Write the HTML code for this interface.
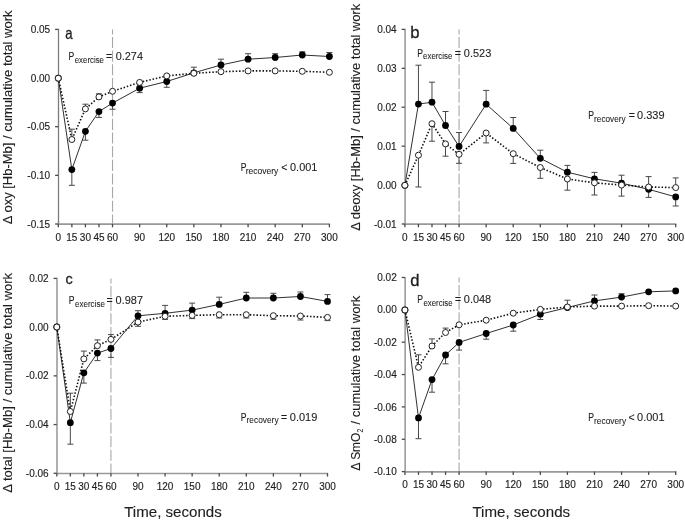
<!DOCTYPE html>
<html><head><meta charset="utf-8"><style>
html,body{margin:0;padding:0;background:#fff;}
body{width:685px;height:521px;overflow:hidden;}
svg{display:block;will-change:transform;filter:blur(0.4px);}
text{font-family:"Liberation Sans",sans-serif;fill:#1e1e1e;}
.tk{font-size:10px;stroke:#1e1e1e;stroke-width:0.15px;}
.let{font-size:16.5px;stroke:#1e1e1e;stroke-width:0.3px;}
.pv{font-size:10.5px;stroke:#1e1e1e;stroke-width:0.1px;}
.sub{font-size:9.6px;stroke:#1e1e1e;stroke-width:0.08px;}
.yl{font-size:13px;stroke:#1e1e1e;stroke-width:0.12px;}
.sub2{font-size:8.5px;}
.tm{font-size:14.5px;stroke:#1e1e1e;stroke-width:0.12px;}
</style></head><body>
<svg width="685" height="521" viewBox="0 0 685 521">
<rect width="685" height="521" fill="#fff"/>
<line x1="112.52" y1="29.4" x2="112.52" y2="224" stroke="#a8a8a8" stroke-width="1.1" stroke-dasharray="11.1 2.55" stroke-dashoffset="6.1"/>
<line x1="58.5" y1="28.8" x2="58.5" y2="224" stroke="#7c7c7c" stroke-width="1.3"/>
<line x1="58.3" y1="224.2" x2="330" y2="224.2" stroke="#999" stroke-width="1.7"/>
<line x1="55.1" y1="29.4" x2="58.3" y2="29.4" stroke="#4a4a4a" stroke-width="1.3"/>
<text x="50.1" y="33" class="tk" text-anchor="end">0.05</text>
<line x1="55.1" y1="78.05" x2="58.3" y2="78.05" stroke="#4a4a4a" stroke-width="1.3"/>
<text x="50.1" y="81.65" class="tk" text-anchor="end">0.00</text>
<line x1="55.1" y1="126.7" x2="58.3" y2="126.7" stroke="#4a4a4a" stroke-width="1.3"/>
<text x="50.1" y="130.3" class="tk" text-anchor="end">-0.05</text>
<line x1="55.1" y1="175.35" x2="58.3" y2="175.35" stroke="#4a4a4a" stroke-width="1.3"/>
<text x="50.1" y="178.95" class="tk" text-anchor="end">-0.10</text>
<line x1="55.1" y1="224" x2="58.3" y2="224" stroke="#4a4a4a" stroke-width="1.3"/>
<text x="50.1" y="227.6" class="tk" text-anchor="end">-0.15</text>
<line x1="58.3" y1="224" x2="58.3" y2="227.3" stroke="#4a4a4a" stroke-width="1.3"/>
<text x="58.3" y="240.8" class="tk" text-anchor="middle">0</text>
<line x1="71.85" y1="224" x2="71.85" y2="227.3" stroke="#4a4a4a" stroke-width="1.3"/>
<text x="71.85" y="240.8" class="tk" text-anchor="middle">15</text>
<line x1="85.41" y1="224" x2="85.41" y2="227.3" stroke="#4a4a4a" stroke-width="1.3"/>
<text x="85.41" y="240.8" class="tk" text-anchor="middle">30</text>
<line x1="98.96" y1="224" x2="98.96" y2="227.3" stroke="#4a4a4a" stroke-width="1.3"/>
<text x="98.96" y="240.8" class="tk" text-anchor="middle">45</text>
<line x1="112.52" y1="224" x2="112.52" y2="227.3" stroke="#4a4a4a" stroke-width="1.3"/>
<text x="112.52" y="240.8" class="tk" text-anchor="middle">60</text>
<line x1="139.63" y1="224" x2="139.63" y2="227.3" stroke="#4a4a4a" stroke-width="1.3"/>
<text x="139.63" y="240.8" class="tk" text-anchor="middle">90</text>
<line x1="166.74" y1="224" x2="166.74" y2="227.3" stroke="#4a4a4a" stroke-width="1.3"/>
<text x="166.74" y="240.8" class="tk" text-anchor="middle">120</text>
<line x1="193.85" y1="224" x2="193.85" y2="227.3" stroke="#4a4a4a" stroke-width="1.3"/>
<text x="193.85" y="240.8" class="tk" text-anchor="middle">150</text>
<line x1="220.96" y1="224" x2="220.96" y2="227.3" stroke="#4a4a4a" stroke-width="1.3"/>
<text x="220.96" y="240.8" class="tk" text-anchor="middle">180</text>
<line x1="248.07" y1="224" x2="248.07" y2="227.3" stroke="#4a4a4a" stroke-width="1.3"/>
<text x="248.07" y="240.8" class="tk" text-anchor="middle">210</text>
<line x1="275.18" y1="224" x2="275.18" y2="227.3" stroke="#4a4a4a" stroke-width="1.3"/>
<text x="275.18" y="240.8" class="tk" text-anchor="middle">240</text>
<line x1="302.29" y1="224" x2="302.29" y2="227.3" stroke="#4a4a4a" stroke-width="1.3"/>
<text x="302.29" y="240.8" class="tk" text-anchor="middle">270</text>
<line x1="329.4" y1="224" x2="329.4" y2="227.3" stroke="#4a4a4a" stroke-width="1.3"/>
<text x="329.4" y="240.8" class="tk" text-anchor="middle">300</text>
<path d="M71.85 169.6V185.3M68.85 185.3H74.85" stroke="#484848" stroke-width="1" fill="none"/>
<path d="M85.41 131.3V140.2M82.41 140.2H88.41" stroke="#484848" stroke-width="1" fill="none"/>
<path d="M98.96 111.6V117.4M95.96 117.4H101.96" stroke="#484848" stroke-width="1" fill="none"/>
<path d="M112.52 103.1V109.2M109.52 109.2H115.52" stroke="#484848" stroke-width="1" fill="none"/>
<path d="M139.63 88.2V92.6M136.63 92.6H142.63" stroke="#484848" stroke-width="1" fill="none"/>
<path d="M166.74 81.5V87.3M163.74 87.3H169.74" stroke="#484848" stroke-width="1" fill="none"/>
<path d="M193.85 72.8V67.2M190.85 67.2H196.85" stroke="#484848" stroke-width="1" fill="none"/>
<path d="M220.96 65V59.2M217.96 59.2H223.96" stroke="#484848" stroke-width="1" fill="none"/>
<path d="M248.07 59.2V53.7M245.07 53.7H251.07" stroke="#484848" stroke-width="1" fill="none"/>
<path d="M275.18 57.5V53.7M272.18 53.7H278.18" stroke="#484848" stroke-width="1" fill="none"/>
<path d="M302.29 55V51.8M299.29 51.8H305.29" stroke="#484848" stroke-width="1" fill="none"/>
<path d="M329.4 56.5V52.5M326.4 52.5H332.4" stroke="#484848" stroke-width="1" fill="none"/>
<path d="M71.85 139.5V129.2M68.85 129.2H74.85" stroke="#484848" stroke-width="1" fill="none"/>
<path d="M85.41 108.9V104.2M82.41 104.2H88.41" stroke="#484848" stroke-width="1" fill="none"/>
<path d="M98.96 96.9V93.8M95.96 93.8H101.96" stroke="#484848" stroke-width="1" fill="none"/>
<polyline points="58.3,78.2 71.85,169.6 85.41,131.3 98.96,111.6 112.52,103.1 139.63,88.2 166.74,81.5 193.85,72.8 220.96,65 248.07,59.2 275.18,57.5 302.29,55 329.4,56.5" fill="none" stroke="#303030" stroke-width="1"/>
<polyline points="58.3,78.2 71.85,139.5 85.41,108.9 98.96,96.9 112.52,91.3 139.63,82.4 166.74,75.9 193.85,73.3 220.96,71.7 248.07,70.9 275.18,70.9 302.29,71.3 329.4,72.3" fill="none" stroke="#111" stroke-width="1.6" stroke-dasharray="1.5 1.85"/>
<circle cx="58.3" cy="78.2" r="3.4" fill="#000"/>
<circle cx="71.85" cy="169.6" r="3.4" fill="#000"/>
<circle cx="85.41" cy="131.3" r="3.4" fill="#000"/>
<circle cx="98.96" cy="111.6" r="3.4" fill="#000"/>
<circle cx="112.52" cy="103.1" r="3.4" fill="#000"/>
<circle cx="139.63" cy="88.2" r="3.4" fill="#000"/>
<circle cx="166.74" cy="81.5" r="3.4" fill="#000"/>
<circle cx="193.85" cy="72.8" r="3.4" fill="#000"/>
<circle cx="220.96" cy="65" r="3.4" fill="#000"/>
<circle cx="248.07" cy="59.2" r="3.4" fill="#000"/>
<circle cx="275.18" cy="57.5" r="3.4" fill="#000"/>
<circle cx="302.29" cy="55" r="3.4" fill="#000"/>
<circle cx="329.4" cy="56.5" r="3.4" fill="#000"/>
<circle cx="58.3" cy="78.2" r="3" fill="#fff" stroke="#222" stroke-width="1"/>
<circle cx="71.85" cy="139.5" r="3" fill="#fff" stroke="#222" stroke-width="1"/>
<circle cx="85.41" cy="108.9" r="3" fill="#fff" stroke="#222" stroke-width="1"/>
<circle cx="98.96" cy="96.9" r="3" fill="#fff" stroke="#222" stroke-width="1"/>
<circle cx="112.52" cy="91.3" r="3" fill="#fff" stroke="#222" stroke-width="1"/>
<circle cx="139.63" cy="82.4" r="3" fill="#fff" stroke="#222" stroke-width="1"/>
<circle cx="166.74" cy="75.9" r="3" fill="#fff" stroke="#222" stroke-width="1"/>
<circle cx="193.85" cy="73.3" r="3" fill="#fff" stroke="#222" stroke-width="1"/>
<circle cx="220.96" cy="71.7" r="3" fill="#fff" stroke="#222" stroke-width="1"/>
<circle cx="248.07" cy="70.9" r="3" fill="#fff" stroke="#222" stroke-width="1"/>
<circle cx="275.18" cy="70.9" r="3" fill="#fff" stroke="#222" stroke-width="1"/>
<circle cx="302.29" cy="71.3" r="3" fill="#fff" stroke="#222" stroke-width="1"/>
<circle cx="329.4" cy="72.3" r="3" fill="#fff" stroke="#222" stroke-width="1"/>
<text x="65.29" y="39.00" class="let" textLength="7.36" lengthAdjust="spacingAndGlyphs" style="font-size:16.5px">a</text>
<text x="68.54" y="60.00" class="pv" textLength="5.76" lengthAdjust="spacingAndGlyphs">P</text>
<text x="74.72" y="62.60" class="sub" textLength="29.28" lengthAdjust="spacingAndGlyphs">exercise</text>
<text x="105.99" y="60.00" class="pv">=</text>
<text x="115.72" y="60.00" class="pv" textLength="27.24" lengthAdjust="spacingAndGlyphs">0.274</text>
<text x="240.64" y="170.90" class="pv" textLength="5.76" lengthAdjust="spacingAndGlyphs">P</text>
<text x="245.79" y="173.50" class="sub" textLength="32.48" lengthAdjust="spacingAndGlyphs">recovery</text>
<text x="281.33" y="170.90" class="pv">&lt;</text>
<text x="290.02" y="170.90" class="pv" textLength="27.36" lengthAdjust="spacingAndGlyphs">0.001</text>
<text transform="translate(11.90,224.14) rotate(-90)" class="yl" textLength="213.67" lengthAdjust="spacingAndGlyphs">Δ oxy [Hb-Mb] / cumulative total work</text>
<line x1="459.06" y1="29.4" x2="459.06" y2="224" stroke="#a8a8a8" stroke-width="1.1" stroke-dasharray="11.1 2.55" stroke-dashoffset="6.1"/>
<line x1="405.1" y1="28.8" x2="405.1" y2="224" stroke="#a2a2a2" stroke-width="1.7"/>
<line x1="404.9" y1="224.2" x2="676.3" y2="224.2" stroke="#999" stroke-width="1.7"/>
<line x1="401.7" y1="29.4" x2="404.9" y2="29.4" stroke="#4a4a4a" stroke-width="1.3"/>
<text x="396.7" y="33" class="tk" text-anchor="end">0.04</text>
<line x1="401.7" y1="68.32" x2="404.9" y2="68.32" stroke="#4a4a4a" stroke-width="1.3"/>
<text x="396.7" y="71.92" class="tk" text-anchor="end">0.03</text>
<line x1="401.7" y1="107.24" x2="404.9" y2="107.24" stroke="#4a4a4a" stroke-width="1.3"/>
<text x="396.7" y="110.84" class="tk" text-anchor="end">0.02</text>
<line x1="401.7" y1="146.16" x2="404.9" y2="146.16" stroke="#4a4a4a" stroke-width="1.3"/>
<text x="396.7" y="149.76" class="tk" text-anchor="end">0.01</text>
<line x1="401.7" y1="185.08" x2="404.9" y2="185.08" stroke="#4a4a4a" stroke-width="1.3"/>
<text x="396.7" y="188.68" class="tk" text-anchor="end">0.00</text>
<line x1="401.7" y1="224" x2="404.9" y2="224" stroke="#4a4a4a" stroke-width="1.3"/>
<text x="396.7" y="227.6" class="tk" text-anchor="end">-0.01</text>
<line x1="404.9" y1="224" x2="404.9" y2="227.3" stroke="#4a4a4a" stroke-width="1.3"/>
<text x="404.9" y="240.8" class="tk" text-anchor="middle">0</text>
<line x1="418.44" y1="224" x2="418.44" y2="227.3" stroke="#4a4a4a" stroke-width="1.3"/>
<text x="418.44" y="240.8" class="tk" text-anchor="middle">15</text>
<line x1="431.98" y1="224" x2="431.98" y2="227.3" stroke="#4a4a4a" stroke-width="1.3"/>
<text x="431.98" y="240.8" class="tk" text-anchor="middle">30</text>
<line x1="445.52" y1="224" x2="445.52" y2="227.3" stroke="#4a4a4a" stroke-width="1.3"/>
<text x="445.52" y="240.8" class="tk" text-anchor="middle">45</text>
<line x1="459.06" y1="224" x2="459.06" y2="227.3" stroke="#4a4a4a" stroke-width="1.3"/>
<text x="459.06" y="240.8" class="tk" text-anchor="middle">60</text>
<line x1="486.14" y1="224" x2="486.14" y2="227.3" stroke="#4a4a4a" stroke-width="1.3"/>
<text x="486.14" y="240.8" class="tk" text-anchor="middle">90</text>
<line x1="513.22" y1="224" x2="513.22" y2="227.3" stroke="#4a4a4a" stroke-width="1.3"/>
<text x="513.22" y="240.8" class="tk" text-anchor="middle">120</text>
<line x1="540.3" y1="224" x2="540.3" y2="227.3" stroke="#4a4a4a" stroke-width="1.3"/>
<text x="540.3" y="240.8" class="tk" text-anchor="middle">150</text>
<line x1="567.38" y1="224" x2="567.38" y2="227.3" stroke="#4a4a4a" stroke-width="1.3"/>
<text x="567.38" y="240.8" class="tk" text-anchor="middle">180</text>
<line x1="594.46" y1="224" x2="594.46" y2="227.3" stroke="#4a4a4a" stroke-width="1.3"/>
<text x="594.46" y="240.8" class="tk" text-anchor="middle">210</text>
<line x1="621.54" y1="224" x2="621.54" y2="227.3" stroke="#4a4a4a" stroke-width="1.3"/>
<text x="621.54" y="240.8" class="tk" text-anchor="middle">240</text>
<line x1="648.62" y1="224" x2="648.62" y2="227.3" stroke="#4a4a4a" stroke-width="1.3"/>
<text x="648.62" y="240.8" class="tk" text-anchor="middle">270</text>
<line x1="675.7" y1="224" x2="675.7" y2="227.3" stroke="#4a4a4a" stroke-width="1.3"/>
<text x="675.7" y="240.8" class="tk" text-anchor="middle">300</text>
<path d="M418.44 104.1V65.2M415.44 65.2H421.44" stroke="#484848" stroke-width="1" fill="none"/>
<path d="M431.98 102.2V82.2M428.98 82.2H434.98" stroke="#484848" stroke-width="1" fill="none"/>
<path d="M445.52 125.5V111.5M442.52 111.5H448.52" stroke="#484848" stroke-width="1" fill="none"/>
<path d="M459.06 146.4V132.5M456.06 132.5H462.06" stroke="#484848" stroke-width="1" fill="none"/>
<path d="M486.14 104.2V90.4M483.14 90.4H489.14" stroke="#484848" stroke-width="1" fill="none"/>
<path d="M513.22 128.4V117.5M510.22 117.5H516.22" stroke="#484848" stroke-width="1" fill="none"/>
<path d="M540.3 158.3V150.2M537.3 150.2H543.3" stroke="#484848" stroke-width="1" fill="none"/>
<path d="M567.38 172.2V165.4M564.38 165.4H570.38" stroke="#484848" stroke-width="1" fill="none"/>
<path d="M594.46 178.8V172.4M591.46 172.4H597.46" stroke="#484848" stroke-width="1" fill="none"/>
<path d="M621.54 183.2V175.2M618.54 175.2H624.54" stroke="#484848" stroke-width="1" fill="none"/>
<path d="M648.62 189.3V197.4M645.62 197.4H651.62" stroke="#484848" stroke-width="1" fill="none"/>
<path d="M675.7 196.9V206M672.7 206H678.7" stroke="#484848" stroke-width="1" fill="none"/>
<path d="M418.44 155.2V187M415.44 187H421.44" stroke="#484848" stroke-width="1" fill="none"/>
<path d="M431.98 123.7V141.2M428.98 141.2H434.98" stroke="#484848" stroke-width="1" fill="none"/>
<path d="M445.52 143.9V156.2M442.52 156.2H448.52" stroke="#484848" stroke-width="1" fill="none"/>
<path d="M459.06 154.3V163.3M456.06 163.3H462.06" stroke="#484848" stroke-width="1" fill="none"/>
<path d="M486.14 133V142.9M483.14 142.9H489.14" stroke="#484848" stroke-width="1" fill="none"/>
<path d="M513.22 153.7V163.4M510.22 163.4H516.22" stroke="#484848" stroke-width="1" fill="none"/>
<path d="M540.3 167.5V178.3M537.3 178.3H543.3" stroke="#484848" stroke-width="1" fill="none"/>
<path d="M567.38 179V190.2M564.38 190.2H570.38" stroke="#484848" stroke-width="1" fill="none"/>
<path d="M594.46 182.8V195M591.46 195H597.46" stroke="#484848" stroke-width="1" fill="none"/>
<path d="M621.54 185.1V196.1M618.54 196.1H624.54" stroke="#484848" stroke-width="1" fill="none"/>
<path d="M648.62 187V176.6M645.62 176.6H651.62" stroke="#484848" stroke-width="1" fill="none"/>
<path d="M675.7 187.6V177.9M672.7 177.9H678.7" stroke="#484848" stroke-width="1" fill="none"/>
<polyline points="404.9,185.3 418.44,104.1 431.98,102.2 445.52,125.5 459.06,146.4 486.14,104.2 513.22,128.4 540.3,158.3 567.38,172.2 594.46,178.8 621.54,183.2 648.62,189.3 675.7,196.9" fill="none" stroke="#303030" stroke-width="1"/>
<polyline points="404.9,185.3 418.44,155.2 431.98,123.7 445.52,143.9 459.06,154.3 486.14,133 513.22,153.7 540.3,167.5 567.38,179 594.46,182.8 621.54,185.1 648.62,187 675.7,187.6" fill="none" stroke="#111" stroke-width="1.6" stroke-dasharray="1.5 1.85"/>
<circle cx="404.9" cy="185.3" r="3.4" fill="#000"/>
<circle cx="418.44" cy="104.1" r="3.4" fill="#000"/>
<circle cx="431.98" cy="102.2" r="3.4" fill="#000"/>
<circle cx="445.52" cy="125.5" r="3.4" fill="#000"/>
<circle cx="459.06" cy="146.4" r="3.4" fill="#000"/>
<circle cx="486.14" cy="104.2" r="3.4" fill="#000"/>
<circle cx="513.22" cy="128.4" r="3.4" fill="#000"/>
<circle cx="540.3" cy="158.3" r="3.4" fill="#000"/>
<circle cx="567.38" cy="172.2" r="3.4" fill="#000"/>
<circle cx="594.46" cy="178.8" r="3.4" fill="#000"/>
<circle cx="621.54" cy="183.2" r="3.4" fill="#000"/>
<circle cx="648.62" cy="189.3" r="3.4" fill="#000"/>
<circle cx="675.7" cy="196.9" r="3.4" fill="#000"/>
<circle cx="404.9" cy="185.3" r="3" fill="#fff" stroke="#222" stroke-width="1"/>
<circle cx="418.44" cy="155.2" r="3" fill="#fff" stroke="#222" stroke-width="1"/>
<circle cx="431.98" cy="123.7" r="3" fill="#fff" stroke="#222" stroke-width="1"/>
<circle cx="445.52" cy="143.9" r="3" fill="#fff" stroke="#222" stroke-width="1"/>
<circle cx="459.06" cy="154.3" r="3" fill="#fff" stroke="#222" stroke-width="1"/>
<circle cx="486.14" cy="133" r="3" fill="#fff" stroke="#222" stroke-width="1"/>
<circle cx="513.22" cy="153.7" r="3" fill="#fff" stroke="#222" stroke-width="1"/>
<circle cx="540.3" cy="167.5" r="3" fill="#fff" stroke="#222" stroke-width="1"/>
<circle cx="567.38" cy="179" r="3" fill="#fff" stroke="#222" stroke-width="1"/>
<circle cx="594.46" cy="182.8" r="3" fill="#fff" stroke="#222" stroke-width="1"/>
<circle cx="621.54" cy="185.1" r="3" fill="#fff" stroke="#222" stroke-width="1"/>
<circle cx="648.62" cy="187" r="3" fill="#fff" stroke="#222" stroke-width="1"/>
<circle cx="675.7" cy="187.6" r="3" fill="#fff" stroke="#222" stroke-width="1"/>
<text x="410.18" y="38.10" class="let" textLength="9.28" lengthAdjust="spacingAndGlyphs" style="font-size:16.5px">b</text>
<text x="417.14" y="56.80" class="pv" textLength="5.76" lengthAdjust="spacingAndGlyphs">P</text>
<text x="423.12" y="59.40" class="sub" textLength="29.18" lengthAdjust="spacingAndGlyphs">exercise</text>
<text x="454.69" y="56.80" class="pv">=</text>
<text x="463.82" y="56.80" class="pv" textLength="27.41" lengthAdjust="spacingAndGlyphs">0.523</text>
<text x="588.14" y="119.40" class="pv" textLength="5.76" lengthAdjust="spacingAndGlyphs">P</text>
<text x="594.10" y="122.00" class="sub" textLength="31.56" lengthAdjust="spacingAndGlyphs">recovery</text>
<text x="628.84" y="119.40" class="pv">=</text>
<text x="637.12" y="119.40" class="pv" textLength="27.45" lengthAdjust="spacingAndGlyphs">0.339</text>
<text transform="translate(360.00,230.73) rotate(-90)" class="yl" textLength="226.86" lengthAdjust="spacingAndGlyphs">Δ deoxy [Hb-Mb] / cumulative total work</text>
<line x1="110.94" y1="278.4" x2="110.94" y2="473.3" stroke="#a8a8a8" stroke-width="1.1" stroke-dasharray="11.1 2.55" stroke-dashoffset="6.1"/>
<line x1="57" y1="277.8" x2="57" y2="473.3" stroke="#a2a2a2" stroke-width="1.7"/>
<line x1="56.8" y1="473.5" x2="328.1" y2="473.5" stroke="#999" stroke-width="1.7"/>
<line x1="53.6" y1="278.4" x2="56.8" y2="278.4" stroke="#4a4a4a" stroke-width="1.3"/>
<text x="48.6" y="282" class="tk" text-anchor="end">0.02</text>
<line x1="53.6" y1="327.12" x2="56.8" y2="327.12" stroke="#4a4a4a" stroke-width="1.3"/>
<text x="48.6" y="330.73" class="tk" text-anchor="end">0.00</text>
<line x1="53.6" y1="375.85" x2="56.8" y2="375.85" stroke="#4a4a4a" stroke-width="1.3"/>
<text x="48.6" y="379.45" class="tk" text-anchor="end">-0.02</text>
<line x1="53.6" y1="424.57" x2="56.8" y2="424.57" stroke="#4a4a4a" stroke-width="1.3"/>
<text x="48.6" y="428.18" class="tk" text-anchor="end">-0.04</text>
<line x1="53.6" y1="473.3" x2="56.8" y2="473.3" stroke="#4a4a4a" stroke-width="1.3"/>
<text x="48.6" y="476.9" class="tk" text-anchor="end">-0.06</text>
<line x1="56.8" y1="473.3" x2="56.8" y2="476.6" stroke="#4a4a4a" stroke-width="1.3"/>
<text x="56.8" y="490.1" class="tk" text-anchor="middle">0</text>
<line x1="70.33" y1="473.3" x2="70.33" y2="476.6" stroke="#4a4a4a" stroke-width="1.3"/>
<text x="70.33" y="490.1" class="tk" text-anchor="middle">15</text>
<line x1="83.87" y1="473.3" x2="83.87" y2="476.6" stroke="#4a4a4a" stroke-width="1.3"/>
<text x="83.87" y="490.1" class="tk" text-anchor="middle">30</text>
<line x1="97.41" y1="473.3" x2="97.41" y2="476.6" stroke="#4a4a4a" stroke-width="1.3"/>
<text x="97.41" y="490.1" class="tk" text-anchor="middle">45</text>
<line x1="110.94" y1="473.3" x2="110.94" y2="476.6" stroke="#4a4a4a" stroke-width="1.3"/>
<text x="110.94" y="490.1" class="tk" text-anchor="middle">60</text>
<line x1="138.01" y1="473.3" x2="138.01" y2="476.6" stroke="#4a4a4a" stroke-width="1.3"/>
<text x="138.01" y="490.1" class="tk" text-anchor="middle">90</text>
<line x1="165.08" y1="473.3" x2="165.08" y2="476.6" stroke="#4a4a4a" stroke-width="1.3"/>
<text x="165.08" y="490.1" class="tk" text-anchor="middle">120</text>
<line x1="192.15" y1="473.3" x2="192.15" y2="476.6" stroke="#4a4a4a" stroke-width="1.3"/>
<text x="192.15" y="490.1" class="tk" text-anchor="middle">150</text>
<line x1="219.22" y1="473.3" x2="219.22" y2="476.6" stroke="#4a4a4a" stroke-width="1.3"/>
<text x="219.22" y="490.1" class="tk" text-anchor="middle">180</text>
<line x1="246.29" y1="473.3" x2="246.29" y2="476.6" stroke="#4a4a4a" stroke-width="1.3"/>
<text x="246.29" y="490.1" class="tk" text-anchor="middle">210</text>
<line x1="273.36" y1="473.3" x2="273.36" y2="476.6" stroke="#4a4a4a" stroke-width="1.3"/>
<text x="273.36" y="490.1" class="tk" text-anchor="middle">240</text>
<line x1="300.43" y1="473.3" x2="300.43" y2="476.6" stroke="#4a4a4a" stroke-width="1.3"/>
<text x="300.43" y="490.1" class="tk" text-anchor="middle">270</text>
<line x1="327.5" y1="473.3" x2="327.5" y2="476.6" stroke="#4a4a4a" stroke-width="1.3"/>
<text x="327.5" y="490.1" class="tk" text-anchor="middle">300</text>
<path d="M70.33 422.7V444.2M67.33 444.2H73.33" stroke="#484848" stroke-width="1" fill="none"/>
<path d="M83.87 372.8V383.1M80.87 383.1H86.87" stroke="#484848" stroke-width="1" fill="none"/>
<path d="M97.41 353.1V360.6M94.41 360.6H100.41" stroke="#484848" stroke-width="1" fill="none"/>
<path d="M110.94 348.5V357.4M107.94 357.4H113.94" stroke="#484848" stroke-width="1" fill="none"/>
<path d="M138.01 315.8V310.7M135.01 310.7H141.01" stroke="#484848" stroke-width="1" fill="none"/>
<path d="M165.08 313.3V305.4M162.08 305.4H168.08" stroke="#484848" stroke-width="1" fill="none"/>
<path d="M192.15 310.1V303.1M189.15 303.1H195.15" stroke="#484848" stroke-width="1" fill="none"/>
<path d="M219.22 304.4V297.2M216.22 297.2H222.22" stroke="#484848" stroke-width="1" fill="none"/>
<path d="M246.29 298V292.3M243.29 292.3H249.29" stroke="#484848" stroke-width="1" fill="none"/>
<path d="M273.36 298V293.3M270.36 293.3H276.36" stroke="#484848" stroke-width="1" fill="none"/>
<path d="M300.43 296.5V292M297.43 292H303.43" stroke="#484848" stroke-width="1" fill="none"/>
<path d="M327.5 301.4V294.6M324.5 294.6H330.5" stroke="#484848" stroke-width="1" fill="none"/>
<path d="M70.33 411.5V393.2M67.33 393.2H73.33" stroke="#484848" stroke-width="1" fill="none"/>
<path d="M83.87 358.9V351.1M80.87 351.1H86.87" stroke="#484848" stroke-width="1" fill="none"/>
<path d="M97.41 345.7V339.9M94.41 339.9H100.41" stroke="#484848" stroke-width="1" fill="none"/>
<path d="M110.94 339.4V334.6M107.94 334.6H113.94" stroke="#484848" stroke-width="1" fill="none"/>
<path d="M138.01 322.1V326.3M135.01 326.3H141.01" stroke="#484848" stroke-width="1" fill="none"/>
<path d="M165.08 316.3V319.4M162.08 319.4H168.08" stroke="#484848" stroke-width="1" fill="none"/>
<path d="M192.15 315.4V318.6M189.15 318.6H195.15" stroke="#484848" stroke-width="1" fill="none"/>
<path d="M219.22 314.7V318M216.22 318H222.22" stroke="#484848" stroke-width="1" fill="none"/>
<path d="M246.29 314.7V318M243.29 318H249.29" stroke="#484848" stroke-width="1" fill="none"/>
<path d="M273.36 315.7V319.3M270.36 319.3H276.36" stroke="#484848" stroke-width="1" fill="none"/>
<path d="M300.43 316V320M297.43 320H303.43" stroke="#484848" stroke-width="1" fill="none"/>
<path d="M327.5 317.4V320.6M324.5 320.6H330.5" stroke="#484848" stroke-width="1" fill="none"/>
<polyline points="56.8,327 70.33,422.7 83.87,372.8 97.41,353.1 110.94,348.5 138.01,315.8 165.08,313.3 192.15,310.1 219.22,304.4 246.29,298 273.36,298 300.43,296.5 327.5,301.4" fill="none" stroke="#303030" stroke-width="1"/>
<polyline points="56.8,327 70.33,411.5 83.87,358.9 97.41,345.7 110.94,339.4 138.01,322.1 165.08,316.3 192.15,315.4 219.22,314.7 246.29,314.7 273.36,315.7 300.43,316 327.5,317.4" fill="none" stroke="#111" stroke-width="1.6" stroke-dasharray="1.5 1.85"/>
<circle cx="56.8" cy="327" r="3.4" fill="#000"/>
<circle cx="70.33" cy="422.7" r="3.4" fill="#000"/>
<circle cx="83.87" cy="372.8" r="3.4" fill="#000"/>
<circle cx="97.41" cy="353.1" r="3.4" fill="#000"/>
<circle cx="110.94" cy="348.5" r="3.4" fill="#000"/>
<circle cx="138.01" cy="315.8" r="3.4" fill="#000"/>
<circle cx="165.08" cy="313.3" r="3.4" fill="#000"/>
<circle cx="192.15" cy="310.1" r="3.4" fill="#000"/>
<circle cx="219.22" cy="304.4" r="3.4" fill="#000"/>
<circle cx="246.29" cy="298" r="3.4" fill="#000"/>
<circle cx="273.36" cy="298" r="3.4" fill="#000"/>
<circle cx="300.43" cy="296.5" r="3.4" fill="#000"/>
<circle cx="327.5" cy="301.4" r="3.4" fill="#000"/>
<circle cx="56.8" cy="327" r="3" fill="#fff" stroke="#222" stroke-width="1"/>
<circle cx="70.33" cy="411.5" r="3" fill="#fff" stroke="#222" stroke-width="1"/>
<circle cx="83.87" cy="358.9" r="3" fill="#fff" stroke="#222" stroke-width="1"/>
<circle cx="97.41" cy="345.7" r="3" fill="#fff" stroke="#222" stroke-width="1"/>
<circle cx="110.94" cy="339.4" r="3" fill="#fff" stroke="#222" stroke-width="1"/>
<circle cx="138.01" cy="322.1" r="3" fill="#fff" stroke="#222" stroke-width="1"/>
<circle cx="165.08" cy="316.3" r="3" fill="#fff" stroke="#222" stroke-width="1"/>
<circle cx="192.15" cy="315.4" r="3" fill="#fff" stroke="#222" stroke-width="1"/>
<circle cx="219.22" cy="314.7" r="3" fill="#fff" stroke="#222" stroke-width="1"/>
<circle cx="246.29" cy="314.7" r="3" fill="#fff" stroke="#222" stroke-width="1"/>
<circle cx="273.36" cy="315.7" r="3" fill="#fff" stroke="#222" stroke-width="1"/>
<circle cx="300.43" cy="316" r="3" fill="#fff" stroke="#222" stroke-width="1"/>
<circle cx="327.5" cy="317.4" r="3" fill="#fff" stroke="#222" stroke-width="1"/>
<text x="65.54" y="284.40" class="let" textLength="7.19" lengthAdjust="spacingAndGlyphs" style="font-size:15.3px">c</text>
<text x="68.84" y="304.10" class="pv" textLength="5.76" lengthAdjust="spacingAndGlyphs">P</text>
<text x="75.01" y="306.70" class="sub" textLength="29.90" lengthAdjust="spacingAndGlyphs">exercise</text>
<text x="106.49" y="304.10" class="pv">=</text>
<text x="115.62" y="304.10" class="pv" textLength="27.38" lengthAdjust="spacingAndGlyphs">0.987</text>
<text x="240.64" y="420.60" class="pv" textLength="5.76" lengthAdjust="spacingAndGlyphs">P</text>
<text x="246.60" y="423.20" class="sub" textLength="31.97" lengthAdjust="spacingAndGlyphs">recovery</text>
<text x="280.94" y="420.60" class="pv">=</text>
<text x="289.82" y="420.60" class="pv" textLength="27.55" lengthAdjust="spacingAndGlyphs">0.019</text>
<text transform="translate(11.80,492.74) rotate(-90)" class="yl" textLength="219.87" lengthAdjust="spacingAndGlyphs">Δ total [Hb-Mb] / cumulative total work</text>
<text x="124.21" y="517.10" class="tm" textLength="97.58" lengthAdjust="spacingAndGlyphs">Time, seconds</text>
<line x1="459.1" y1="277.5" x2="459.1" y2="471.6" stroke="#a8a8a8" stroke-width="1.1" stroke-dasharray="11.1 2.55" stroke-dashoffset="6.1"/>
<line x1="405.15" y1="276.9" x2="405.15" y2="471.6" stroke="#a2a2a2" stroke-width="1.7"/>
<line x1="404.95" y1="471.8" x2="676.3" y2="471.8" stroke="#999" stroke-width="1.7"/>
<line x1="401.75" y1="277.5" x2="404.95" y2="277.5" stroke="#4a4a4a" stroke-width="1.3"/>
<text x="396.75" y="281.1" class="tk" text-anchor="end">0.02</text>
<line x1="401.75" y1="309.85" x2="404.95" y2="309.85" stroke="#4a4a4a" stroke-width="1.3"/>
<text x="396.75" y="313.45" class="tk" text-anchor="end">0.00</text>
<line x1="401.75" y1="342.2" x2="404.95" y2="342.2" stroke="#4a4a4a" stroke-width="1.3"/>
<text x="396.75" y="345.8" class="tk" text-anchor="end">-0.02</text>
<line x1="401.75" y1="374.55" x2="404.95" y2="374.55" stroke="#4a4a4a" stroke-width="1.3"/>
<text x="396.75" y="378.15" class="tk" text-anchor="end">-0.04</text>
<line x1="401.75" y1="406.9" x2="404.95" y2="406.9" stroke="#4a4a4a" stroke-width="1.3"/>
<text x="396.75" y="410.5" class="tk" text-anchor="end">-0.06</text>
<line x1="401.75" y1="439.25" x2="404.95" y2="439.25" stroke="#4a4a4a" stroke-width="1.3"/>
<text x="396.75" y="442.85" class="tk" text-anchor="end">-0.08</text>
<line x1="401.75" y1="471.6" x2="404.95" y2="471.6" stroke="#4a4a4a" stroke-width="1.3"/>
<text x="396.75" y="475.2" class="tk" text-anchor="end">-0.10</text>
<line x1="404.95" y1="471.6" x2="404.95" y2="474.9" stroke="#4a4a4a" stroke-width="1.3"/>
<text x="404.95" y="488.4" class="tk" text-anchor="middle">0</text>
<line x1="418.49" y1="471.6" x2="418.49" y2="474.9" stroke="#4a4a4a" stroke-width="1.3"/>
<text x="418.49" y="488.4" class="tk" text-anchor="middle">15</text>
<line x1="432.02" y1="471.6" x2="432.02" y2="474.9" stroke="#4a4a4a" stroke-width="1.3"/>
<text x="432.02" y="488.4" class="tk" text-anchor="middle">30</text>
<line x1="445.56" y1="471.6" x2="445.56" y2="474.9" stroke="#4a4a4a" stroke-width="1.3"/>
<text x="445.56" y="488.4" class="tk" text-anchor="middle">45</text>
<line x1="459.1" y1="471.6" x2="459.1" y2="474.9" stroke="#4a4a4a" stroke-width="1.3"/>
<text x="459.1" y="488.4" class="tk" text-anchor="middle">60</text>
<line x1="486.18" y1="471.6" x2="486.18" y2="474.9" stroke="#4a4a4a" stroke-width="1.3"/>
<text x="486.18" y="488.4" class="tk" text-anchor="middle">90</text>
<line x1="513.25" y1="471.6" x2="513.25" y2="474.9" stroke="#4a4a4a" stroke-width="1.3"/>
<text x="513.25" y="488.4" class="tk" text-anchor="middle">120</text>
<line x1="540.33" y1="471.6" x2="540.33" y2="474.9" stroke="#4a4a4a" stroke-width="1.3"/>
<text x="540.33" y="488.4" class="tk" text-anchor="middle">150</text>
<line x1="567.4" y1="471.6" x2="567.4" y2="474.9" stroke="#4a4a4a" stroke-width="1.3"/>
<text x="567.4" y="488.4" class="tk" text-anchor="middle">180</text>
<line x1="594.48" y1="471.6" x2="594.48" y2="474.9" stroke="#4a4a4a" stroke-width="1.3"/>
<text x="594.48" y="488.4" class="tk" text-anchor="middle">210</text>
<line x1="621.55" y1="471.6" x2="621.55" y2="474.9" stroke="#4a4a4a" stroke-width="1.3"/>
<text x="621.55" y="488.4" class="tk" text-anchor="middle">240</text>
<line x1="648.62" y1="471.6" x2="648.62" y2="474.9" stroke="#4a4a4a" stroke-width="1.3"/>
<text x="648.62" y="488.4" class="tk" text-anchor="middle">270</text>
<line x1="675.7" y1="471.6" x2="675.7" y2="474.9" stroke="#4a4a4a" stroke-width="1.3"/>
<text x="675.7" y="488.4" class="tk" text-anchor="middle">300</text>
<path d="M418.49 417.9V438.7M415.49 438.7H421.49" stroke="#484848" stroke-width="1" fill="none"/>
<path d="M432.02 379.6V392.2M429.02 392.2H435.02" stroke="#484848" stroke-width="1" fill="none"/>
<path d="M445.56 355V363.8M442.56 363.8H448.56" stroke="#484848" stroke-width="1" fill="none"/>
<path d="M459.1 342.4V350.1M456.1 350.1H462.1" stroke="#484848" stroke-width="1" fill="none"/>
<path d="M486.18 333.5V339.2M483.18 339.2H489.18" stroke="#484848" stroke-width="1" fill="none"/>
<path d="M513.25 325V331.2M510.25 331.2H516.25" stroke="#484848" stroke-width="1" fill="none"/>
<path d="M540.33 314.2V319.5M537.33 319.5H543.33" stroke="#484848" stroke-width="1" fill="none"/>
<path d="M567.4 307.5V300.2M564.4 300.2H570.4" stroke="#484848" stroke-width="1" fill="none"/>
<path d="M594.48 300.9V295M591.48 295H597.48" stroke="#484848" stroke-width="1" fill="none"/>
<path d="M621.55 297.1V293.7M618.55 293.7H624.55" stroke="#484848" stroke-width="1" fill="none"/>
<path d="M418.49 367.3V354.8M415.49 354.8H421.49" stroke="#484848" stroke-width="1" fill="none"/>
<path d="M432.02 346V338.9M429.02 338.9H435.02" stroke="#484848" stroke-width="1" fill="none"/>
<path d="M445.56 332.5V328.1M442.56 328.1H448.56" stroke="#484848" stroke-width="1" fill="none"/>
<polyline points="404.95,310 418.49,417.9 432.02,379.6 445.56,355 459.1,342.4 486.18,333.5 513.25,325 540.33,314.2 567.4,307.5 594.48,300.9 621.55,297.1 648.62,291.8 675.7,290.9" fill="none" stroke="#303030" stroke-width="1"/>
<polyline points="404.95,310 418.49,367.3 432.02,346 445.56,332.5 459.1,324.8 486.18,320.2 513.25,313.2 540.33,309.4 567.4,307 594.48,306.1 621.55,306.1 648.62,305.7 675.7,306.1" fill="none" stroke="#111" stroke-width="1.6" stroke-dasharray="1.5 1.85"/>
<circle cx="404.95" cy="310" r="3.4" fill="#000"/>
<circle cx="418.49" cy="417.9" r="3.4" fill="#000"/>
<circle cx="432.02" cy="379.6" r="3.4" fill="#000"/>
<circle cx="445.56" cy="355" r="3.4" fill="#000"/>
<circle cx="459.1" cy="342.4" r="3.4" fill="#000"/>
<circle cx="486.18" cy="333.5" r="3.4" fill="#000"/>
<circle cx="513.25" cy="325" r="3.4" fill="#000"/>
<circle cx="540.33" cy="314.2" r="3.4" fill="#000"/>
<circle cx="567.4" cy="307.5" r="3.4" fill="#000"/>
<circle cx="594.48" cy="300.9" r="3.4" fill="#000"/>
<circle cx="621.55" cy="297.1" r="3.4" fill="#000"/>
<circle cx="648.62" cy="291.8" r="3.4" fill="#000"/>
<circle cx="675.7" cy="290.9" r="3.4" fill="#000"/>
<circle cx="404.95" cy="310" r="3" fill="#fff" stroke="#222" stroke-width="1"/>
<circle cx="418.49" cy="367.3" r="3" fill="#fff" stroke="#222" stroke-width="1"/>
<circle cx="432.02" cy="346" r="3" fill="#fff" stroke="#222" stroke-width="1"/>
<circle cx="445.56" cy="332.5" r="3" fill="#fff" stroke="#222" stroke-width="1"/>
<circle cx="459.1" cy="324.8" r="3" fill="#fff" stroke="#222" stroke-width="1"/>
<circle cx="486.18" cy="320.2" r="3" fill="#fff" stroke="#222" stroke-width="1"/>
<circle cx="513.25" cy="313.2" r="3" fill="#fff" stroke="#222" stroke-width="1"/>
<circle cx="540.33" cy="309.4" r="3" fill="#fff" stroke="#222" stroke-width="1"/>
<circle cx="567.4" cy="307" r="3" fill="#fff" stroke="#222" stroke-width="1"/>
<circle cx="594.48" cy="306.1" r="3" fill="#fff" stroke="#222" stroke-width="1"/>
<circle cx="621.55" cy="306.1" r="3" fill="#fff" stroke="#222" stroke-width="1"/>
<circle cx="648.62" cy="305.7" r="3" fill="#fff" stroke="#222" stroke-width="1"/>
<circle cx="675.7" cy="306.1" r="3" fill="#fff" stroke="#222" stroke-width="1"/>
<text x="410.35" y="286.00" class="let" textLength="9.28" lengthAdjust="spacingAndGlyphs" style="font-size:16.5px">d</text>
<text x="417.14" y="303.10" class="pv" textLength="5.76" lengthAdjust="spacingAndGlyphs">P</text>
<text x="423.42" y="305.70" class="sub" textLength="29.18" lengthAdjust="spacingAndGlyphs">exercise</text>
<text x="454.99" y="303.10" class="pv">=</text>
<text x="463.82" y="303.10" class="pv" textLength="27.40" lengthAdjust="spacingAndGlyphs">0.048</text>
<text x="588.14" y="421.30" class="pv" textLength="5.76" lengthAdjust="spacingAndGlyphs">P</text>
<text x="594.10" y="423.90" class="sub" textLength="31.97" lengthAdjust="spacingAndGlyphs">recovery</text>
<text x="628.38" y="421.30" class="pv">&lt;</text>
<text x="637.12" y="421.30" class="pv" textLength="27.46" lengthAdjust="spacingAndGlyphs">0.001</text>
<text x="472.41" y="517.10" class="tm" textLength="97.68" lengthAdjust="spacingAndGlyphs">Time, seconds</text>
<text transform="translate(359.90,470.40) rotate(-90)" class="yl" textLength="37.61" lengthAdjust="spacingAndGlyphs">Δ SmO</text>
<text transform="translate(363.20,432.50) rotate(-90)" class="sub2" textLength="3.91" lengthAdjust="spacingAndGlyphs">2</text>
<text transform="translate(359.90,424.55) rotate(-90)" class="yl" textLength="128.88" lengthAdjust="spacingAndGlyphs">/ cumulative total work</text>
</svg>
</body></html>
